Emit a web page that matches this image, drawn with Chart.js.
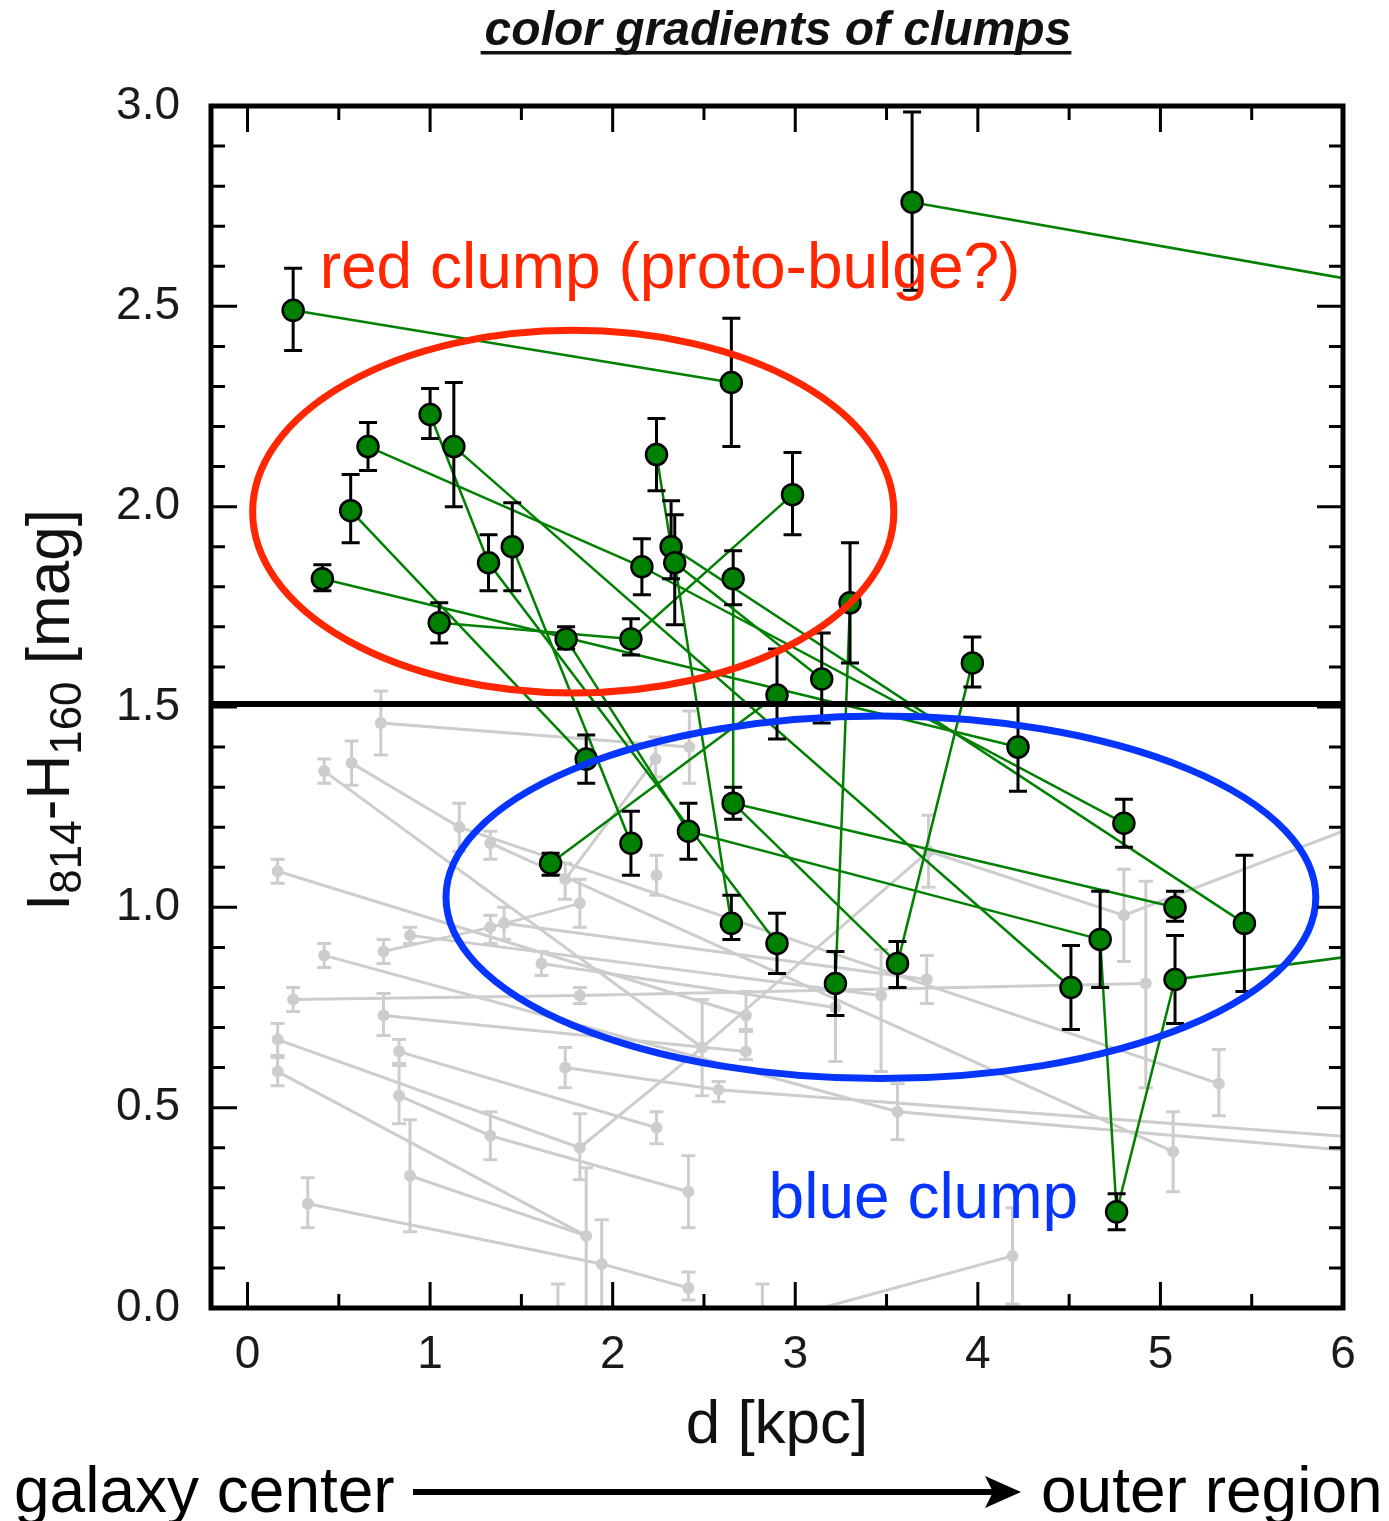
<!DOCTYPE html>
<html lang="en">
<head>
<meta charset="UTF-8">
<title>color gradients of clumps</title>
<script src="https://cdn.jsdelivr.net/npm/chart.js"></script>
<style>
    html, body { margin: 0; padding: 0; background: #ffffff; }
    #wrap { width: 1389px; height: 1521px; }
</style>
</head>
<body>
<div id="wrap"><canvas id="chart" width="1389" height="1521"></canvas></div>
<script>
// axis ticks
const xTicks = [0, 1, 2, 3, 4, 5, 6];
const yTicks = [0, 0.5, 1.0, 1.5, 2.0, 2.5, 3.0];

// green clumps: d [kpc], I814-H160 [mag], error up, error down (null = beyond the frame)
const greenD     = [0.25, 2.65, 3.64, 7.0, 1.00, 1.13, 0.66, 0.565, 0.41, 1.05, 1.32, 1.45, 1.745, 2.10, 2.16, 2.24, 2.32, 2.34, 2.66, 2.985, 3.30, 3.145, 2.90, 3.97, 4.22, 4.80, 5.46, 5.08, 5.08, 7.0, 4.67, 4.51, 4.76, 3.56, 3.22, 2.90, 2.65, 2.66, 2.415, 2.10, 1.855, 1.66];
const greenColor = [2.49, 2.31, 2.76, 2.49, 2.23, 2.15, 2.15, 1.99, 1.82, 1.71, 1.86, 1.90, 1.67, 1.67, 1.85, 2.13, 1.90, 1.86, 1.82, 2.03, 1.76, 1.57, 1.53, 1.61, 1.40, 1.21, 0.96, 1.00, 0.82, 0.935, 0.92, 0.80, 0.24, 0.86, 0.81, 0.91, 0.96, 1.26, 1.19, 1.16, 1.37, 1.11];
const greenUp    = [0.105, 0.16, 0.225, null, 0.065, 0.16, 0.06, 0.09, 0.035, 0.05, 0.07, 0.11, 0.03, 0.05, 0.07, 0.09, 0.115, 0.12, 0.07, 0.105, 0.15, 0.115, 0.115, 0.065, 0.11, 0.06, 0.17, 0.04, 0.11, null, 0.12, 0.105, 0.045, 0.055, 0.08, 0.075, 0.07, 0.04, 0.07, 0.08, 0.06, 0.025];
const greenDown  = [0.10, 0.16, 0.22, null, 0.06, 0.15, 0.06, 0.08, 0.03, 0.05, 0.07, 0.11, 0.025, 0.04, 0.07, 0.09, 0.08, 0.155, 0.065, 0.10, 0.15, 0.11, 0.11, 0.06, 0.11, 0.06, 0.17, 0.035, 0.11, null, 0.12, 0.105, 0.045, 0.06, 0.08, 0.075, 0.04, 0.04, 0.07, 0.08, 0.06, 0.03];
// clumps of one galaxy joined by a line (indices into the green arrays)
const greenTracks = [
    [0, 1], [2, 3], [8, 24], [6, 14, 25], [5, 31], [4, 10, 35], [7, 40], [11, 39],
    [9, 13, 19], [41, 22], [12, 38, 30, 32, 28, 29], [18, 37, 27], [34, 20], [33, 23],
    [15, 16, 26], [17, 36], [17, 21], [37, 33]
];

// comparison clumps (grey)
const grayD     = [0.73, 0.42, 0.57, 1.16, 1.33, 0.165, 1.74, 1.82, 1.33, 1.405, 0.89, 0.745, 0.42, 1.61, 0.25, 1.82, 0.745, 0.165, 0.165, 0.83, 0.83, 1.33, 0.89, 0.33, 1.82, 1.855, 1.94, 1.74, 2.235, 2.42, 2.73, 2.73, 2.49, 2.58, 2.24, 2.415, 2.415, 3.56, 3.22, 3.47, 3.72, 4.92, 5.32, 5.07, 4.19, 4.80, 1.70, 2.82, 7.0, 7.0, 7.0, 2.24, 3.73];
const grayColor = [1.46, 1.34, 1.36, 1.20, 1.16, 1.09, 1.07, 1.01, 0.95, 0.96, 0.93, 0.89, 0.88, 0.86, 0.77, 0.78, 0.73, 0.67, 0.59, 0.64, 0.53, 0.43, 0.33, 0.26, 0.40, 0.18, 0.11, 0.60, 1.37, 1.40, 0.73, 0.64, 0.65, 0.545, 0.45, 0.29, 0.05, 0.49, 0.75, 0.78, 0.82, 0.81, 0.56, 0.39, 0.13, 0.98, -0.04, -0.04, 1.365, 0.355, 0.395, 1.08, 1.14];
const grayUp    = [0.08, 0.03, 0.055, 0.06, 0.03, 0.03, 0.04, 0.06, 0.03, 0.04, 0.02, 0.03, 0.03, 0.03, 0.03, 0.02, 0.055, 0.04, 0.035, 0.03, 0.08, 0.06, 0.14, 0.065, 0.085, 0.17, 0.11, 0.05, 0.055, 0.09, 0.06, 0.055, 0.12, 0.02, 0.04, 0.09, 0.04, 0.07, 0.06, 0.115, 0.06, 0.255, 0.085, 0.10, 0.12, 0.115, 0.10, 0.10, null, null, null, 0.05, 0.09];
const grayDown  = [0.08, 0.03, 0.055, 0.06, 0.04, 0.03, 0.05, 0.06, 0.04, 0.04, 0.02, 0.03, 0.03, 0.03, 0.03, 0.02, 0.05, 0.04, 0.035, 0.035, 0.07, 0.06, 0.14, 0.06, 0.08, 0.18, 0.11, 0.05, 0.045, 0.09, 0.04, 0.02, 0.12, 0.03, 0.04, 0.09, 0.03, 0.07, 0.135, 0.19, 0.06, 0.26, 0.08, 0.10, 0.12, 0.115, 0, 0, null, null, null, 0.05, 0.09];
const grayTracks = [
    [0, 29], [1, 32], [2, 3, 42], [4, 43], [5, 30], [6, 28], [11, 8, 7], [10, 39], [9, 40],
    [12, 37, 49], [13, 38], [14, 15, 41], [16, 31], [17, 24, 32, 52, 45, 48], [18, 25], [22, 25],
    [23, 26, 36], [19, 34], [20, 21, 35], [27, 33, 50], [47, 44]
];

// dividing colour and the two selection ellipses
const splitColor = 1.5075;
const redEllipse  = { d: 1.784, c: 1.9875, rd: 1.756, rc: 0.4525 };
const blueEllipse = { d: 3.469, c: 1.025, rd: 2.382, rc: 0.4525 };

const FONT = "'Liberation Sans', Arial, Helvetica, sans-serif";
const RED = '#ff2600';
const BLUE = '#0535ff';
const GREEN = '#008000';
const GREY = '#cdcdcd';

function toPoints(xs, ys) {
    return xs.map((v, i) => ({ x: v, y: ys[i] }));
}
const greenPts = toPoints(greenD, greenColor);
const grayPts = toPoints(grayD, grayColor);

const datasets = [];
grayTracks.forEach(t => datasets.push({
    data: t.map(i => grayPts[i]), showLine: true, borderColor: GREY, borderWidth: 3,
    pointRadius: 0, order: 60
}));
datasets.push({
    data: grayPts, pointRadius: 6, pointBackgroundColor: GREY, pointBorderWidth: 0, order: 50,
    errUp: grayUp, errDown: grayDown, errColor: GREY, errWidth: 3, capHalf: 7
});
greenTracks.forEach(t => datasets.push({
    data: t.map(i => greenPts[i]), showLine: true, borderColor: GREEN, borderWidth: 2.5,
    pointRadius: 0, order: 40
}));
datasets.push({
    data: greenPts, pointRadius: 10.5, pointBackgroundColor: GREEN, pointBorderColor: '#000',
    pointBorderWidth: 2.5, order: 30,
    errUp: greenUp, errDown: greenDown, errColor: '#000', errWidth: 3, capHalf: 9
});
datasets.push({
    data: [{ x: -0.2, y: splitColor }, { x: 6.0, y: splitColor }], showLine: true,
    borderColor: '#000', borderWidth: 6, pointRadius: 0, order: 5
});

// error bars, drawn under the markers of their own dataset
const errorBars = {
    id: 'errorBars',
    beforeDatasetDraw(chart, args) {
        const ds = chart.data.datasets[args.index];
        if (!ds.errUp) return;
        const { ctx, chartArea: a, scales: { x, y } } = chart;
        ctx.save();
        ctx.beginPath();
        ctx.rect(a.left, a.top, a.right - a.left, a.bottom - a.top);
        ctx.clip();
        ctx.strokeStyle = ds.errColor;
        ctx.lineWidth = ds.errWidth;
        ds.data.forEach((p, i) => {
            const up = ds.errUp[i], dn = ds.errDown[i];
            if (up == null) return;
            const px = x.getPixelForValue(p.x);
            const yt = y.getPixelForValue(p.y + up);
            const yb = y.getPixelForValue(p.y - dn);
            ctx.beginPath();
            ctx.moveTo(px, yt);
            ctx.lineTo(px, yb);
            ctx.moveTo(px - ds.capHalf, yt);
            ctx.lineTo(px + ds.capHalf, yt);
            if (dn > 0) {
                ctx.moveTo(px - ds.capHalf, yb);
                ctx.lineTo(px + ds.capHalf, yb);
            }
            ctx.stroke();
        });
        ctx.restore();
    }
};

// ellipses and the two labels inside the plot
const overlays = {
    id: 'overlays',
    afterDatasetsDraw(chart) {
        const { ctx, scales: { x, y } } = chart;
        const ell = (e, color) => {
            const cx = x.getPixelForValue(e.d), cy = y.getPixelForValue(e.c);
            const rx = x.getPixelForValue(e.d + e.rd) - cx;
            const ry = cy - y.getPixelForValue(e.c + e.rc);
            ctx.beginPath();
            ctx.ellipse(cx, cy, rx, ry, 0, 0, Math.PI * 2);
            ctx.strokeStyle = color;
            ctx.lineWidth = 7;
            ctx.stroke();
        };
        ctx.save();
        ell(redEllipse, RED);
        ell(blueEllipse, BLUE);
        ctx.font = '64px ' + FONT;
        ctx.textBaseline = 'alphabetic';
        ctx.textAlign = 'left';
        ctx.fillStyle = RED;
        ctx.fillText('red clump (proto-bulge?)', x.getPixelForValue(0.395), y.getPixelForValue(2.545));
        ctx.fillStyle = BLUE;
        ctx.fillText('blue clump', x.getPixelForValue(2.854), y.getPixelForValue(0.225));
        ctx.restore();
    }
};

// frame, inward ticks, titles and the bottom arrow
const frame = {
    id: 'frame',
    afterDraw(chart) {
        const { ctx, chartArea: a, scales: { x, y } } = chart;
        ctx.save();
        ctx.strokeStyle = '#000';
        ctx.lineWidth = 3;
        ctx.beginPath();
        for (let v = 0; v <= 6.001; v += 0.5) {
            const px = x.getPixelForValue(v);
            const len = Math.abs(v - Math.round(v)) < 1e-6 ? 26 : 14;
            ctx.moveTo(px, a.top); ctx.lineTo(px, a.top + len);
            ctx.moveTo(px, a.bottom); ctx.lineTo(px, a.bottom - len);
        }
        for (let k = 0; k <= 30; k++) {
            const py = y.getPixelForValue(k / 10);
            const len = k % 5 === 0 ? 26 : 14;
            ctx.moveTo(a.left, py); ctx.lineTo(a.left + len, py);
            ctx.moveTo(a.right, py); ctx.lineTo(a.right - len, py);
        }
        ctx.stroke();
        ctx.lineWidth = 5;
        ctx.strokeRect(a.left, a.top, a.right - a.left, a.bottom - a.top);

        ctx.fillStyle = '#111';
        // title
        ctx.font = 'italic bold 48px ' + FONT;
        ctx.textAlign = 'center';
        ctx.textBaseline = 'alphabetic';
        const title = 'color gradients of clumps';
        ctx.fillText(title, 778, 45);
        const tw = ctx.measureText(title).width;
        ctx.fillRect(778 - tw / 2 - 4, 51, tw + 4, 3.5);

        // x axis title
        ctx.font = '62px ' + FONT;
        ctx.fillText('d [kpc]', (a.left + a.right) / 2, 1443);

        // y axis title with subscripts
        const runs = [['I', 62, 0], ['814', 44, 12], ['-H', 62, 0], ['160', 44, 12], [' [mag]', 62, 0]];
        let total = 0;
        runs.forEach(r => { ctx.font = r[1] + 'px ' + FONT; total += ctx.measureText(r[0]).width; });
        ctx.translate(69, (a.top + a.bottom) / 2 + 3);
        ctx.rotate(-Math.PI / 2);
        ctx.textAlign = 'left';
        let cx = -total / 2;
        runs.forEach(r => {
            ctx.font = r[1] + 'px ' + FONT;
            ctx.fillText(r[0], cx, r[2]);
            cx += ctx.measureText(r[0]).width;
        });
        ctx.setTransform(1, 0, 0, 1, 0, 0);

        // galaxy center -> outer region
        ctx.font = '64px ' + FONT;
        ctx.fillStyle = '#000';
        ctx.textAlign = 'left';
        ctx.fillText('galaxy center', 14, 1512);
        ctx.fillText('outer region', 1041, 1512);
        ctx.lineWidth = 6;
        ctx.beginPath();
        ctx.moveTo(413, 1492);
        ctx.lineTo(995, 1492);
        ctx.stroke();
        ctx.beginPath();
        ctx.moveTo(1021, 1492);
        ctx.lineTo(985, 1476);
        ctx.lineTo(993, 1492);
        ctx.lineTo(985, 1508);
        ctx.closePath();
        ctx.fill();
        ctx.restore();
    }
};

new Chart(document.getElementById('chart'), {
    type: 'scatter',
    data: { datasets: datasets },
    options: {
        responsive: false,
        animation: false,
        layout: { padding: { top: 106, right: 46, bottom: 0, left: 0 } },
        plugins: { legend: { display: false }, tooltip: { enabled: false } },
        scales: {
            x: {
                type: 'linear', min: -0.2, max: 6.0,
                grid: { display: false }, border: { display: false },
                afterBuildTicks: s => { s.ticks = xTicks.map(v => ({ value: v })); },
                afterFit: s => { s.height = 213; },
                ticks: {
                    padding: 12, color: '#1a1a1a', maxRotation: 0,
                    font: { family: FONT, size: 46 },
                    callback: v => String(v)
                }
            },
            y: {
                type: 'linear', min: 0, max: 3.0,
                grid: { display: false }, border: { display: false },
                afterBuildTicks: s => { s.ticks = yTicks.map(v => ({ value: v })); },
                afterFit: s => { s.width = 211; },
                ticks: {
                    padding: 23, color: '#1a1a1a',
                    font: { family: FONT, size: 46 },
                    callback: v => Number(v).toFixed(1)
                }
            }
        }
    },
    plugins: [errorBars, overlays, frame]
});
</script>
</body>
</html>
